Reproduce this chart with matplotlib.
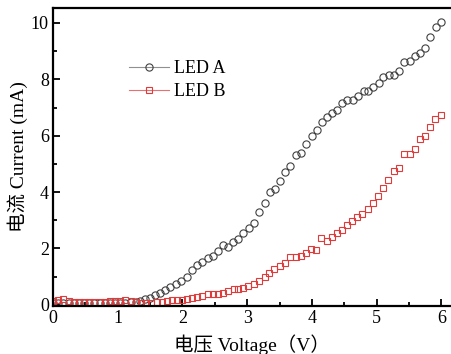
import matplotlib
matplotlib.use("Agg")
import matplotlib.pyplot as plt
from matplotlib.ticker import MultipleLocator

plt.rcParams['font.family'] = ['Liberation Serif', 'Noto Sans CJK SC']

# LED A (circles)
vA = [0.00, 0.08, 0.16, 0.24, 0.32, 0.40, 0.48, 0.56, 0.64, 0.72, 0.80, 0.88,
      0.96, 1.04, 1.12, 1.20, 1.28, 1.34, 1.42, 1.50, 1.58, 1.65, 1.73, 1.81,
      1.90, 1.98, 2.07, 2.15, 2.22, 2.30, 2.40, 2.48, 2.55, 2.63, 2.71, 2.78,
      2.86, 2.94, 3.03, 3.11, 3.19, 3.27, 3.35, 3.43, 3.50, 3.59, 3.66, 3.75,
      3.83, 3.91, 4.00, 4.08, 4.15, 4.23, 4.31, 4.39, 4.47, 4.54, 4.63, 4.71,
      4.80, 4.87, 4.95, 5.03, 5.10, 5.19, 5.27, 5.35, 5.43, 5.51, 5.59, 5.67,
      5.75, 5.83, 5.92, 6.00]
iA = [0.06, 0.06, 0.05, 0.06, 0.05, 0.06, 0.06, 0.05, 0.06, 0.06, 0.07, 0.06,
      0.07, 0.07, 0.08, 0.09, 0.10, 0.14, 0.20, 0.26, 0.35, 0.43, 0.53, 0.65,
      0.75, 0.86, 1.00, 1.22, 1.40, 1.52, 1.66, 1.75, 1.90, 2.12, 2.05, 2.22,
      2.34, 2.55, 2.72, 2.92, 3.30, 3.60, 4.02, 4.10, 4.40, 4.70, 4.92, 5.30,
      5.40, 5.70, 6.00, 6.20, 6.48, 6.68, 6.80, 6.92, 7.15, 7.27, 7.27, 7.40,
      7.58, 7.60, 7.73, 7.88, 8.10, 8.15, 8.17, 8.30, 8.60, 8.65, 8.82, 8.92,
      9.10, 9.50, 9.85, 10.02]

# LED B (squares)
vB = [0.00, 0.08, 0.16, 0.24, 0.32, 0.40, 0.48, 0.56, 0.64, 0.72, 0.80, 0.88,
      0.96, 1.04, 1.12, 1.20, 1.28, 1.36, 1.44, 1.52, 1.60, 1.68, 1.76, 1.84,
      1.92, 2.00, 2.07, 2.15, 2.23, 2.30, 2.40, 2.47, 2.55, 2.63, 2.70, 2.79,
      2.86, 2.94, 3.02, 3.10, 3.19, 3.27, 3.34, 3.42, 3.51, 3.59, 3.66, 3.75,
      3.83, 3.91, 3.99, 4.07, 4.14, 4.23, 4.31, 4.39, 4.47, 4.54, 4.62, 4.70,
      4.78, 4.86, 4.94, 5.02, 5.10, 5.18, 5.27, 5.35, 5.43, 5.51, 5.59, 5.67,
      5.75, 5.83, 5.91, 6.00]
iB = [0.12, 0.18, 0.20, 0.14, 0.10, 0.10, 0.11, 0.11, 0.10, 0.10, 0.11, 0.12,
      0.15, 0.14, 0.16, 0.15, 0.10, 0.06, 0.05, 0.07, 0.09, 0.11, 0.14, 0.16,
      0.18, 0.18, 0.21, 0.25, 0.27, 0.32, 0.37, 0.38, 0.40, 0.42, 0.48, 0.55,
      0.57, 0.60, 0.67, 0.74, 0.85, 0.98, 1.13, 1.28, 1.38, 1.50, 1.70, 1.70,
      1.74, 1.84, 1.97, 1.96, 2.38, 2.27, 2.41, 2.55, 2.64, 2.84, 2.96, 3.12,
      3.24, 3.40, 3.62, 3.85, 4.14, 4.43, 4.74, 4.86, 5.35, 5.35, 5.53, 5.88,
      5.98, 6.30, 6.60, 6.74]

fig = plt.figure(figsize=(4.51, 3.54), dpi=100)
ax = fig.add_axes([0.1175, 0.1356, 0.8825, 0.8418])

ax.plot(vA, iA, 'o', mfc='none', mec='#404040', ms=5.2, mew=0.8,
        color='#909090', lw=0.8, label='LED A')
ax.plot(vB, iB, 's', mfc='none', mec='#e03a3a', ms=5.0, mew=0.8,
        color='#e87070', lw=0.8, label='LED B')

ax.set_xlim(0, 6.15)
ax.set_ylim(-0.04, 10.53)
ax.xaxis.set_major_locator(MultipleLocator(1))
ax.xaxis.set_minor_locator(MultipleLocator(0.5))
ax.yaxis.set_major_locator(MultipleLocator(2))
ax.yaxis.set_minor_locator(MultipleLocator(1))
ax.tick_params(which='both', direction='in', width=1.3, labelsize=13)
ax.tick_params(which='major', length=5, pad=3)
ax.tick_params(which='minor', length=3)
ax.tick_params(top=False, right=False)
for s in ['left', 'bottom', 'top']:
    ax.spines[s].set_linewidth(1.6)
ax.spines['right'].set_visible(False)

ax.set_xlabel('电压 Voltage（V）', fontsize=14, labelpad=5)
ax.set_ylabel('电流 Current (mA)', fontsize=14, labelpad=2)

leg = ax.legend(loc='upper left', bbox_to_anchor=(0.15, 0.88), frameon=False,
                fontsize=13, handlelength=2.2, handletextpad=0.3,
                labelspacing=0.35, numpoints=1)
for h in leg.get_lines():
    h.set_linestyle('-')

fig.savefig('out.png', dpi=100)
